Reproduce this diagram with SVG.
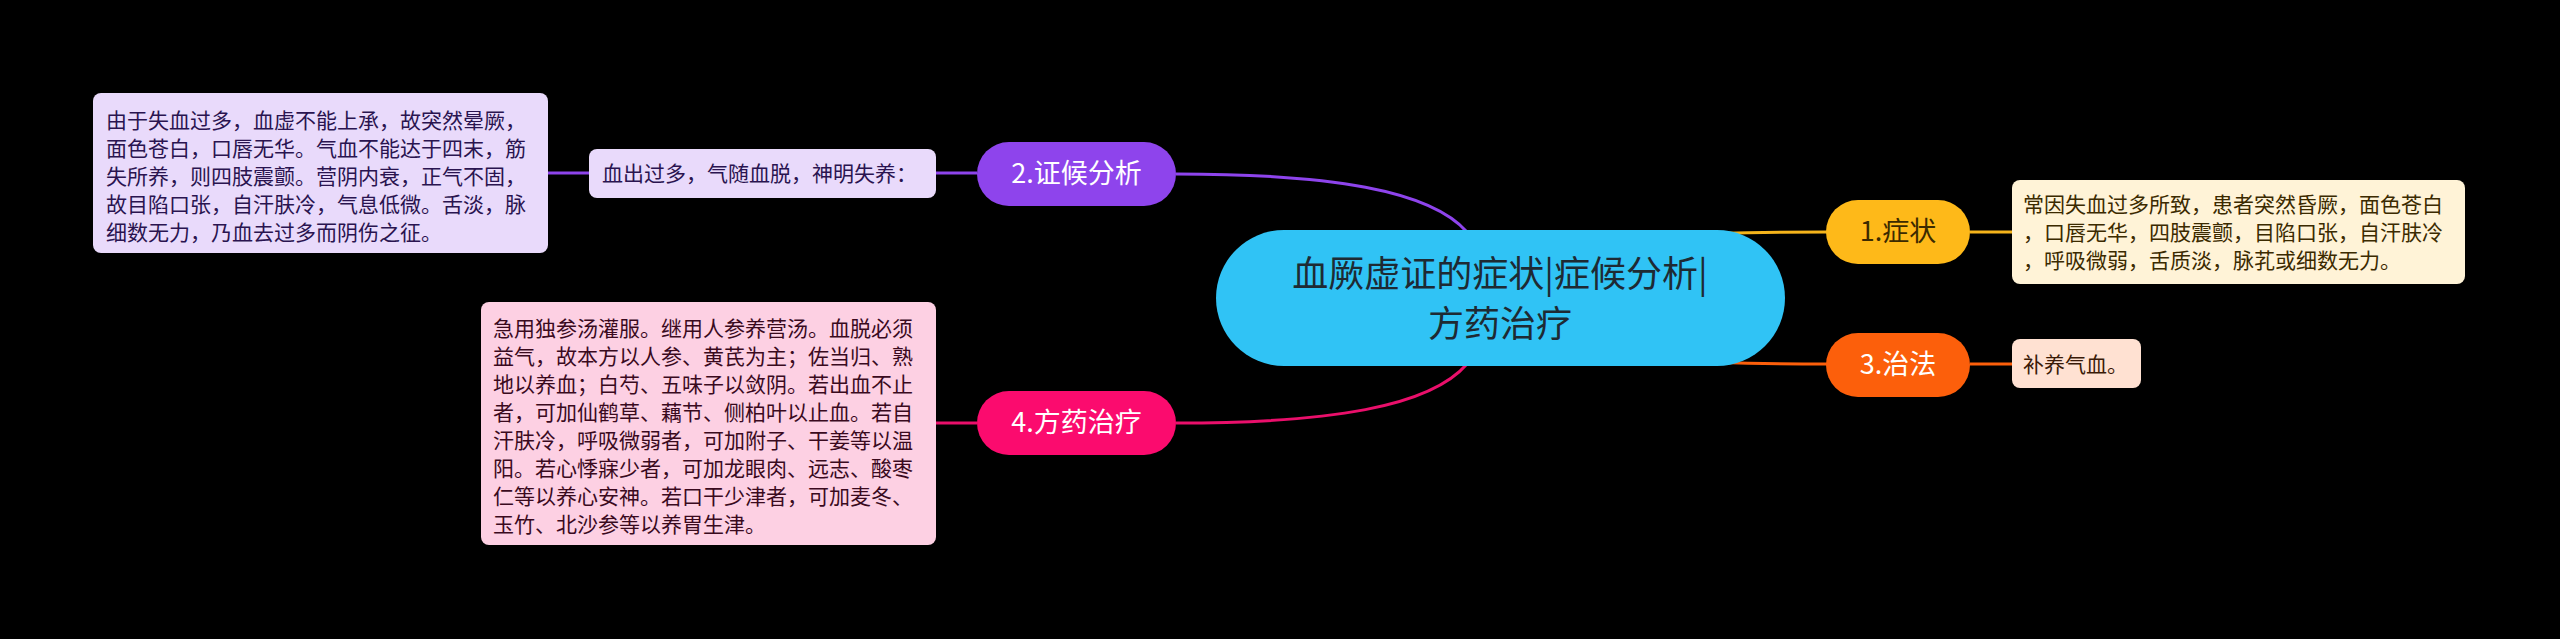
<svg xmlns="http://www.w3.org/2000/svg" width="2560" height="639" viewBox="0 0 2560 639">
<style>
text{font-family:"Noto Sans CJK SC","Noto Sans",sans-serif}
.c{fill:none;stroke-width:3}
.t{font-size:21px}
.n{font-size:27px;text-anchor:middle}
</style>
<rect width="2560" height="639" fill="#000"/>
<g id="connectors">
<path class="c" stroke="#8e44ec" d="M1176,174 C1330,174 1430,190 1467,232"/>
<path class="c" stroke="#8e44ec" d="M936,173 L977,173"/>
<path class="c" stroke="#8e44ec" d="M547,173 L589,173"/>
<path class="c" stroke="#ea0f6b" d="M1176,423 C1330,423 1430,407 1467,364"/>
<path class="c" stroke="#ea0f6b" d="M936,423 L977,423"/>
<path class="c" stroke="#f5b41b" d="M1640,236 C1720,233 1760,232 1827,232"/>
<path class="c" stroke="#f5b41b" d="M1970,232 L2012,232"/>
<path class="c" stroke="#fc5f0b" d="M1640,360 C1720,363 1760,364 1827,364"/>
<path class="c" stroke="#fc5f0b" d="M1970,364 L2012,364"/>
</g>
<g id="central">
<rect x="1216" y="230" width="569" height="136" rx="68" fill="#30c3f5"/>
<text x="1500" y="287" font-size="36" text-anchor="middle" fill="#1e2a33">血厥虚证的症状|症候分析|</text>
<text x="1500" y="337" font-size="36" text-anchor="middle" fill="#1e2a33">方药治疗</text>
</g>
<g id="node1">
<rect x="1826" y="200" width="144" height="64" rx="32" fill="#feb919"/>
<text class="n" x="1898" y="241" fill="#3b2a00">1.症状</text>
</g>
<g id="node1-text">
<rect x="2012" y="180" width="453" height="104" rx="8" fill="#fff3d7"/>
<text class="t" fill="#3b2a00"><tspan x="2023" y="212">常因失血过多所致，患者突然昏厥，面色苍白</tspan><tspan x="2023" y="240">，口唇无华，四肢震颤，目陷口张，自汗肤冷</tspan><tspan x="2023" y="268">，呼吸微弱，舌质淡，脉芤或细数无力。</tspan></text>
</g>
<g id="node2">
<rect x="977" y="142" width="199" height="64" rx="32" fill="#8e44ec"/>
<text class="n" x="1076.5" y="183" fill="#fff">2.证候分析</text>
</g>
<g id="node2-sub">
<rect x="589" y="149" width="347" height="49" rx="8" fill="#e9dafb"/>
<text class="t" x="602" y="181" fill="#2a1450">血出过多，气随血脱，神明失养：</text>
</g>
<g id="node2-text">
<rect x="93" y="93" width="455" height="160" rx="8" fill="#e9dafb"/>
<text class="t" fill="#2a1450"><tspan x="106" y="128">由于失血过多，血虚不能上承，故突然晕厥，</tspan><tspan x="106" y="156">面色苍白，口唇无华。气血不能达于四末，筋</tspan><tspan x="106" y="184">失所养，则四肢震颤。营阴内衰，正气不固，</tspan><tspan x="106" y="212">故目陷口张，自汗肤冷，气息低微。舌淡，脉</tspan><tspan x="106" y="240">细数无力，乃血去过多而阴伤之征。</tspan></text>
</g>
<g id="node3">
<rect x="1826" y="333" width="144" height="64" rx="32" fill="#fc5f0b"/>
<text class="n" x="1898" y="374" fill="#fff">3.治法</text>
</g>
<g id="node3-text">
<rect x="2012" y="339" width="129" height="49" rx="8" fill="#ffe1d2"/>
<text class="t" x="2023" y="372" fill="#3a1a08">补养气血。</text>
</g>
<g id="node4">
<rect x="977" y="391" width="199" height="64" rx="32" fill="#fb0b6e"/>
<text class="n" x="1076.5" y="432" fill="#fff">4.方药治疗</text>
</g>
<g id="node4-text">
<rect x="481" y="302" width="455" height="243" rx="8" fill="#fdd0e3"/>
<text class="t" fill="#3a0a1e"><tspan x="493" y="336">急用独参汤灌服。继用人参养营汤。血脱必须</tspan><tspan x="493" y="364">益气，故本方以人参、黄芪为主；佐当归、熟</tspan><tspan x="493" y="392">地以养血；白芍、五味子以敛阴。若出血不止</tspan><tspan x="493" y="420">者，可加仙鹤草、藕节、侧柏叶以止血。若自</tspan><tspan x="493" y="448">汗肤冷，呼吸微弱者，可加附子、干姜等以温</tspan><tspan x="493" y="476">阳。若心悸寐少者，可加龙眼肉、远志、酸枣</tspan><tspan x="493" y="504">仁等以养心安神。若口干少津者，可加麦冬、</tspan><tspan x="493" y="532">玉竹、北沙参等以养胃生津。</tspan></text>
</g>
</svg>
